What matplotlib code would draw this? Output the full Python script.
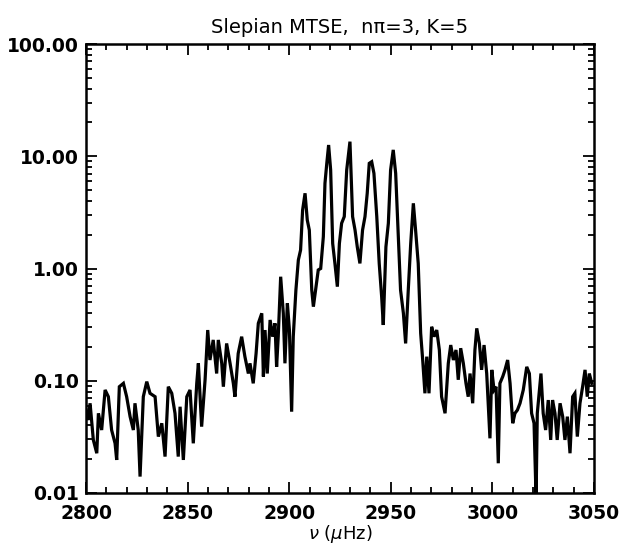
import numpy as np
import matplotlib.pyplot as plt
from matplotlib.ticker import FixedLocator, LogLocator, NullFormatter, FormatStrFormatter

# frequency (uHz) and power
freq = [2800.0, 2801.1, 2802.0, 2803.6, 2805.3, 2806.1, 2807.7, 2809.4, 2811.0, 2812.6,
        2814.3, 2815.1, 2816.4, 2818.4, 2820.0, 2821.7, 2823.3, 2824.1, 2825.7, 2826.6,
        2828.2, 2829.9, 2831.5, 2834.0, 2835.6, 2837.3, 2838.9, 2840.5, 2842.2, 2843.8,
        2845.4, 2846.3, 2847.9, 2849.6, 2851.2, 2852.8, 2854.5, 2855.3, 2856.9, 2858.6,
        2859.9, 2861.0, 2862.6, 2864.3, 2865.1, 2866.8, 2867.6, 2869.2, 2870.9, 2872.5,
        2873.3, 2874.9, 2876.6, 2878.2, 2879.9, 2880.7, 2882.3, 2883.7, 2884.8, 2886.5,
        2887.3, 2888.1, 2889.2, 2890.6, 2891.9, 2893.0, 2893.8, 2894.6, 2895.8, 2897.1,
        2897.9, 2899.1, 2900.1, 2901.2, 2902.0, 2903.3, 2904.5, 2905.6, 2906.6, 2907.8,
        2908.9, 2909.9, 2911.1, 2911.9, 2913.2, 2914.3, 2915.5, 2916.8, 2917.6, 2918.5,
        2919.4, 2920.4, 2921.4, 2922.5, 2923.7, 2924.7, 2925.8, 2927.1, 2928.3, 2929.9,
        2931.2, 2932.4, 2933.5, 2934.8, 2936.1, 2937.3, 2938.4, 2939.4, 2940.6, 2941.7,
        2943.1, 2944.3, 2945.5, 2946.3, 2947.6, 2948.8, 2949.9, 2951.2, 2952.4, 2953.7,
        2954.8, 2956.2, 2957.3, 2958.6, 2959.8, 2961.1, 2962.2, 2963.5, 2964.7, 2965.7,
        2966.8, 2967.7, 2968.8, 2970.1, 2971.3, 2972.6, 2973.9, 2975.0, 2976.7, 2978.3,
        2979.5, 2980.8, 2982.1, 2983.2, 2984.4, 2985.7, 2987.0, 2988.1, 2989.0, 2990.3,
        2991.4, 2992.3, 2993.6, 2994.7, 2995.9, 2997.2, 2998.8, 2999.7, 3000.8, 3001.8,
        3002.9, 3003.7, 3005.1, 3006.2, 3007.5, 3008.7, 3010.0, 3011.1, 3012.3, 3013.6,
        3015.2, 3016.9, 3018.2, 3019.3, 3020.5, 3021.5, 3022.1, 3023.9, 3025.0, 3026.2,
        3027.5, 3028.7, 3029.6, 3030.8, 3031.9, 3033.3, 3034.6, 3035.7, 3036.9, 3038.2,
        3039.5, 3040.6, 3041.8, 3043.1, 3044.4, 3045.6, 3046.7, 3047.7, 3048.9]
power = [0.055, 0.0447, 0.0630, 0.0297, 0.0226, 0.0513, 0.0364, 0.0828, 0.0721, 0.0364,
         0.0277, 0.0197, 0.0885, 0.0948, 0.0721, 0.0479, 0.0364, 0.0630, 0.0364, 0.0140,
         0.0721, 0.0982, 0.0773, 0.0721, 0.0318, 0.0418, 0.0211, 0.0885, 0.0773, 0.0513,
         0.0211, 0.0587, 0.0197, 0.0721, 0.0828, 0.0277, 0.0948, 0.143, 0.0390, 0.102,
         0.283, 0.153, 0.231, 0.116, 0.231, 0.143, 0.0885, 0.215, 0.143, 0.0948,
         0.0721, 0.175, 0.247, 0.164, 0.116, 0.143, 0.0948, 0.175, 0.325, 0.399,
         0.109, 0.283, 0.116, 0.348, 0.247, 0.325, 0.133, 0.247, 0.845, 0.399,
         0.143, 0.490, 0.283, 0.0530, 0.247, 0.643, 1.19, 1.46, 3.32, 4.68,
         2.70, 2.20, 0.643, 0.457, 0.689, 0.971, 1.00, 1.92, 5.74, 8.65,
         12.6, 7.55, 1.67, 1.11, 0.689, 1.67, 2.53, 2.90, 7.55, 13.5,
         2.90, 2.20, 1.56, 1.11, 2.20, 2.90, 4.68, 8.65, 8.94, 7.05,
         2.90, 1.11, 0.561, 0.314, 1.56, 2.53, 7.55, 11.4, 7.05, 1.92,
         0.643, 0.399, 0.215, 0.643, 1.67, 3.81, 2.20, 1.11, 0.265, 0.153,
         0.0773, 0.164, 0.0773, 0.303, 0.247, 0.283, 0.188, 0.0721, 0.0513, 0.143,
         0.208, 0.153, 0.188, 0.102, 0.195, 0.143, 0.0948, 0.0721, 0.116, 0.0630,
         0.188, 0.293, 0.215, 0.125, 0.208, 0.116, 0.0307, 0.125, 0.0828, 0.0885,
         0.0184, 0.0948, 0.109, 0.125, 0.153, 0.0948, 0.0418, 0.0513, 0.0548, 0.0630,
         0.0828, 0.133, 0.116, 0.0513, 0.0418, 0.009, 0.0513, 0.116, 0.0513, 0.0364,
         0.0673, 0.0297, 0.0673, 0.0513, 0.0297, 0.0630, 0.0479, 0.0297, 0.0479, 0.0226,
         0.0721, 0.0773, 0.0318, 0.0630, 0.0885, 0.125, 0.0721, 0.116, 0.0948]

x_ticks = [2800, 2850, 2900, 2950, 3000, 3050]
y_ticks = [0.01, 0.1, 1, 10, 100]
title = 'Slepian MTSE,  n\u03c0=3, K=5'

plt.rcParams['font.family'] = ['DejaVu Sans']
fig = plt.figure(figsize=(6.21, 5.58), dpi=100)
ax = fig.add_axes([0.1385, 0.1165, 0.818, 0.8046])

ax.plot(freq, power, color='black', lw=2.3, solid_joinstyle='miter')

ax.set_yscale('log')
ax.set_xlim(2800, 3050)
ax.set_ylim(0.01, 100)

ax.xaxis.set_major_locator(FixedLocator(x_ticks))
ax.xaxis.set_minor_locator(FixedLocator(np.arange(2800, 3051, 10)))
ax.yaxis.set_major_locator(FixedLocator(y_ticks))
ax.yaxis.set_minor_locator(LogLocator(base=10, subs=np.arange(2, 10)))
ax.yaxis.set_minor_formatter(NullFormatter())
ax.yaxis.set_major_formatter(FormatStrFormatter('%.2f'))

ax.tick_params(which='both', direction='in', top=True, right=True, width=1.3, color='black')
ax.tick_params(which='major', length=8, labelsize=13.5)
ax.tick_params(axis='y', which='major', pad=5)
ax.tick_params(axis='x', which='major', pad=8)
ax.tick_params(which='minor', length=4)
for lab in ax.get_xticklabels() + ax.get_yticklabels():
    lab.set_fontweight('bold')
for s in ax.spines.values():
    s.set_linewidth(1.8)

ax.set_title(title, fontsize=14, pad=8)
ax.set_xlabel(r'$\nu$ ($\mu$Hz)', fontsize=13, labelpad=0)

fig.savefig('out.png', dpi=100)
